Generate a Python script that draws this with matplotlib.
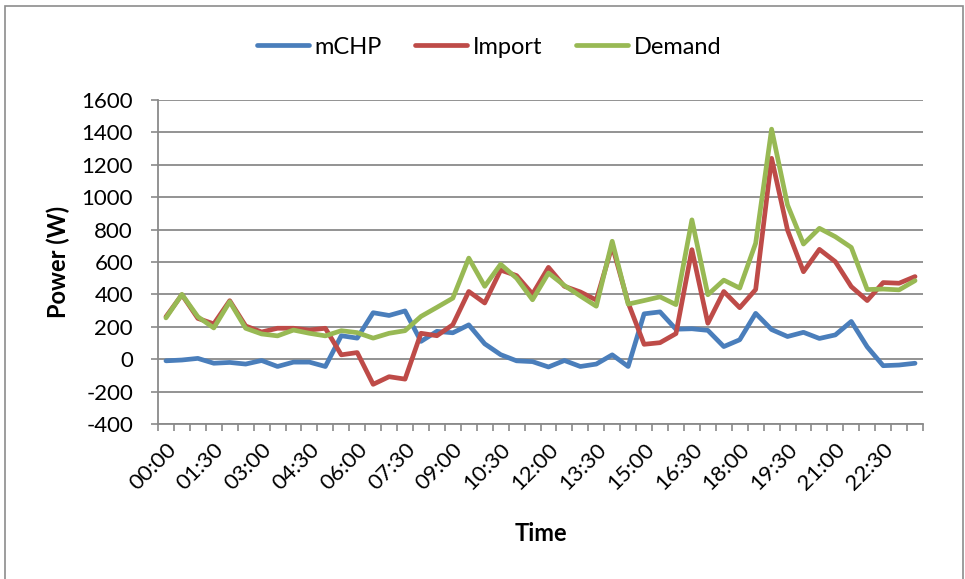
import numpy as np
import matplotlib
matplotlib.use("Agg")
import matplotlib.pyplot as plt
from matplotlib.patches import Rectangle

plt.rcParams['font.family'] = ['Lato', 'DejaVu Sans']
plt.rcParams['axes.unicode_minus'] = False

# half-hourly readings over one day
times = ["%02d:%02d" % (h, m) for h in range(24) for m in (0, 30)]

mchp = [-10, -5, 5, -25, -20, -30, -8, -45, -18, -18, -45, 145, 130, 287, 270, 298,
        110, 172, 163, 212, 95, 28, -10, -15, -48, -8, -45, -30, 27, -45, 280, 292,
        185, 188, 178, 78, 120, 283, 183, 140, 166, 128, 150, 233, 76, -40, -36, -25]
imports = [262, 398, 252, 218, 361, 205, 168, 191, 191, 180, 191, 27, 41, -155, -108, -123,
           160, 145, 213, 418, 347, 550, 516, 402, 567, 450, 415, 365, 700, 348, 92, 102,
           158, 676, 222, 418, 318, 430, 1240, 797, 540, 678, 602, 448, 362, 473, 469, 510]
demand = [255, 400, 262, 193, 355, 191, 156, 144, 180, 160, 144, 176, 164, 130, 160, 176,
          264, 320, 377, 624, 450, 586, 500, 367, 532, 455, 390, 327, 728, 340, 362, 385,
          337, 860, 398, 488, 439, 716, 1420, 952, 711, 808, 756, 690, 430, 433, 428, 485]

series = [("mCHP", mchp, "#4A7EBB"), ("Import", imports, "#BE4B48"), ("Demand", demand, "#98B954")]

fig = plt.figure(figsize=(9.65, 5.79), dpi=100)
fig.patches.append(Rectangle((5 / 965, -0.1), 958 / 965, 1.1 - 6 / 579, transform=fig.transFigure,
                             fill=False, edgecolor="#8c8c8c", linewidth=1.2))

ax = fig.add_axes([158 / 965, 1 - 424 / 579, (923 - 158) / 965, (424 - 100) / 579])
x = np.arange(len(times))
for name, vals, col in series:
    ax.plot(x, vals, color=col, linewidth=3.4, label=name, solid_capstyle="round")

ax.set_xlim(-0.5, len(times) - 0.5)
ax.set_ylim(-400, 1600)
ax.set_yticks(np.arange(-400, 1601, 200))
ax.grid(axis="y", color="#8a8a8a", linewidth=1.3)
ax.set_axisbelow(True)

ax.set_xticks(x[::3])
ax.set_xticklabels(times[::3], rotation=45, ha="right", va="top", rotation_mode="anchor")
ax.set_xticks(np.arange(-0.5, len(times), 1), minor=True)
ax.tick_params(axis="x", which="major", length=0, pad=11, labelsize=16)
ax.tick_params(axis="x", which="minor", length=5, color="#8a8a8a", width=1.2)
ax.tick_params(axis="y", length=5, color="#8a8a8a", width=1.2, labelsize=16, pad=13)

for s in ("top", "right"):
    ax.spines[s].set_visible(False)
for s in ("left", "bottom"):
    ax.spines[s].set_color("#8a8a8a")
    ax.spines[s].set_linewidth(1.3)

ax.set_xlabel("Time", fontsize=17, fontweight="bold", labelpad=20)
ax.set_ylabel("Power (W)", fontsize=17, fontweight="bold", labelpad=8)

fig.legend(loc="center", bbox_to_anchor=(489 / 965, 1 - 47 / 579), ncol=3, frameon=False,
           fontsize=17, handlelength=2.2, handletextpad=0.25, columnspacing=1.4)

fig.savefig("out.png", dpi=100)
